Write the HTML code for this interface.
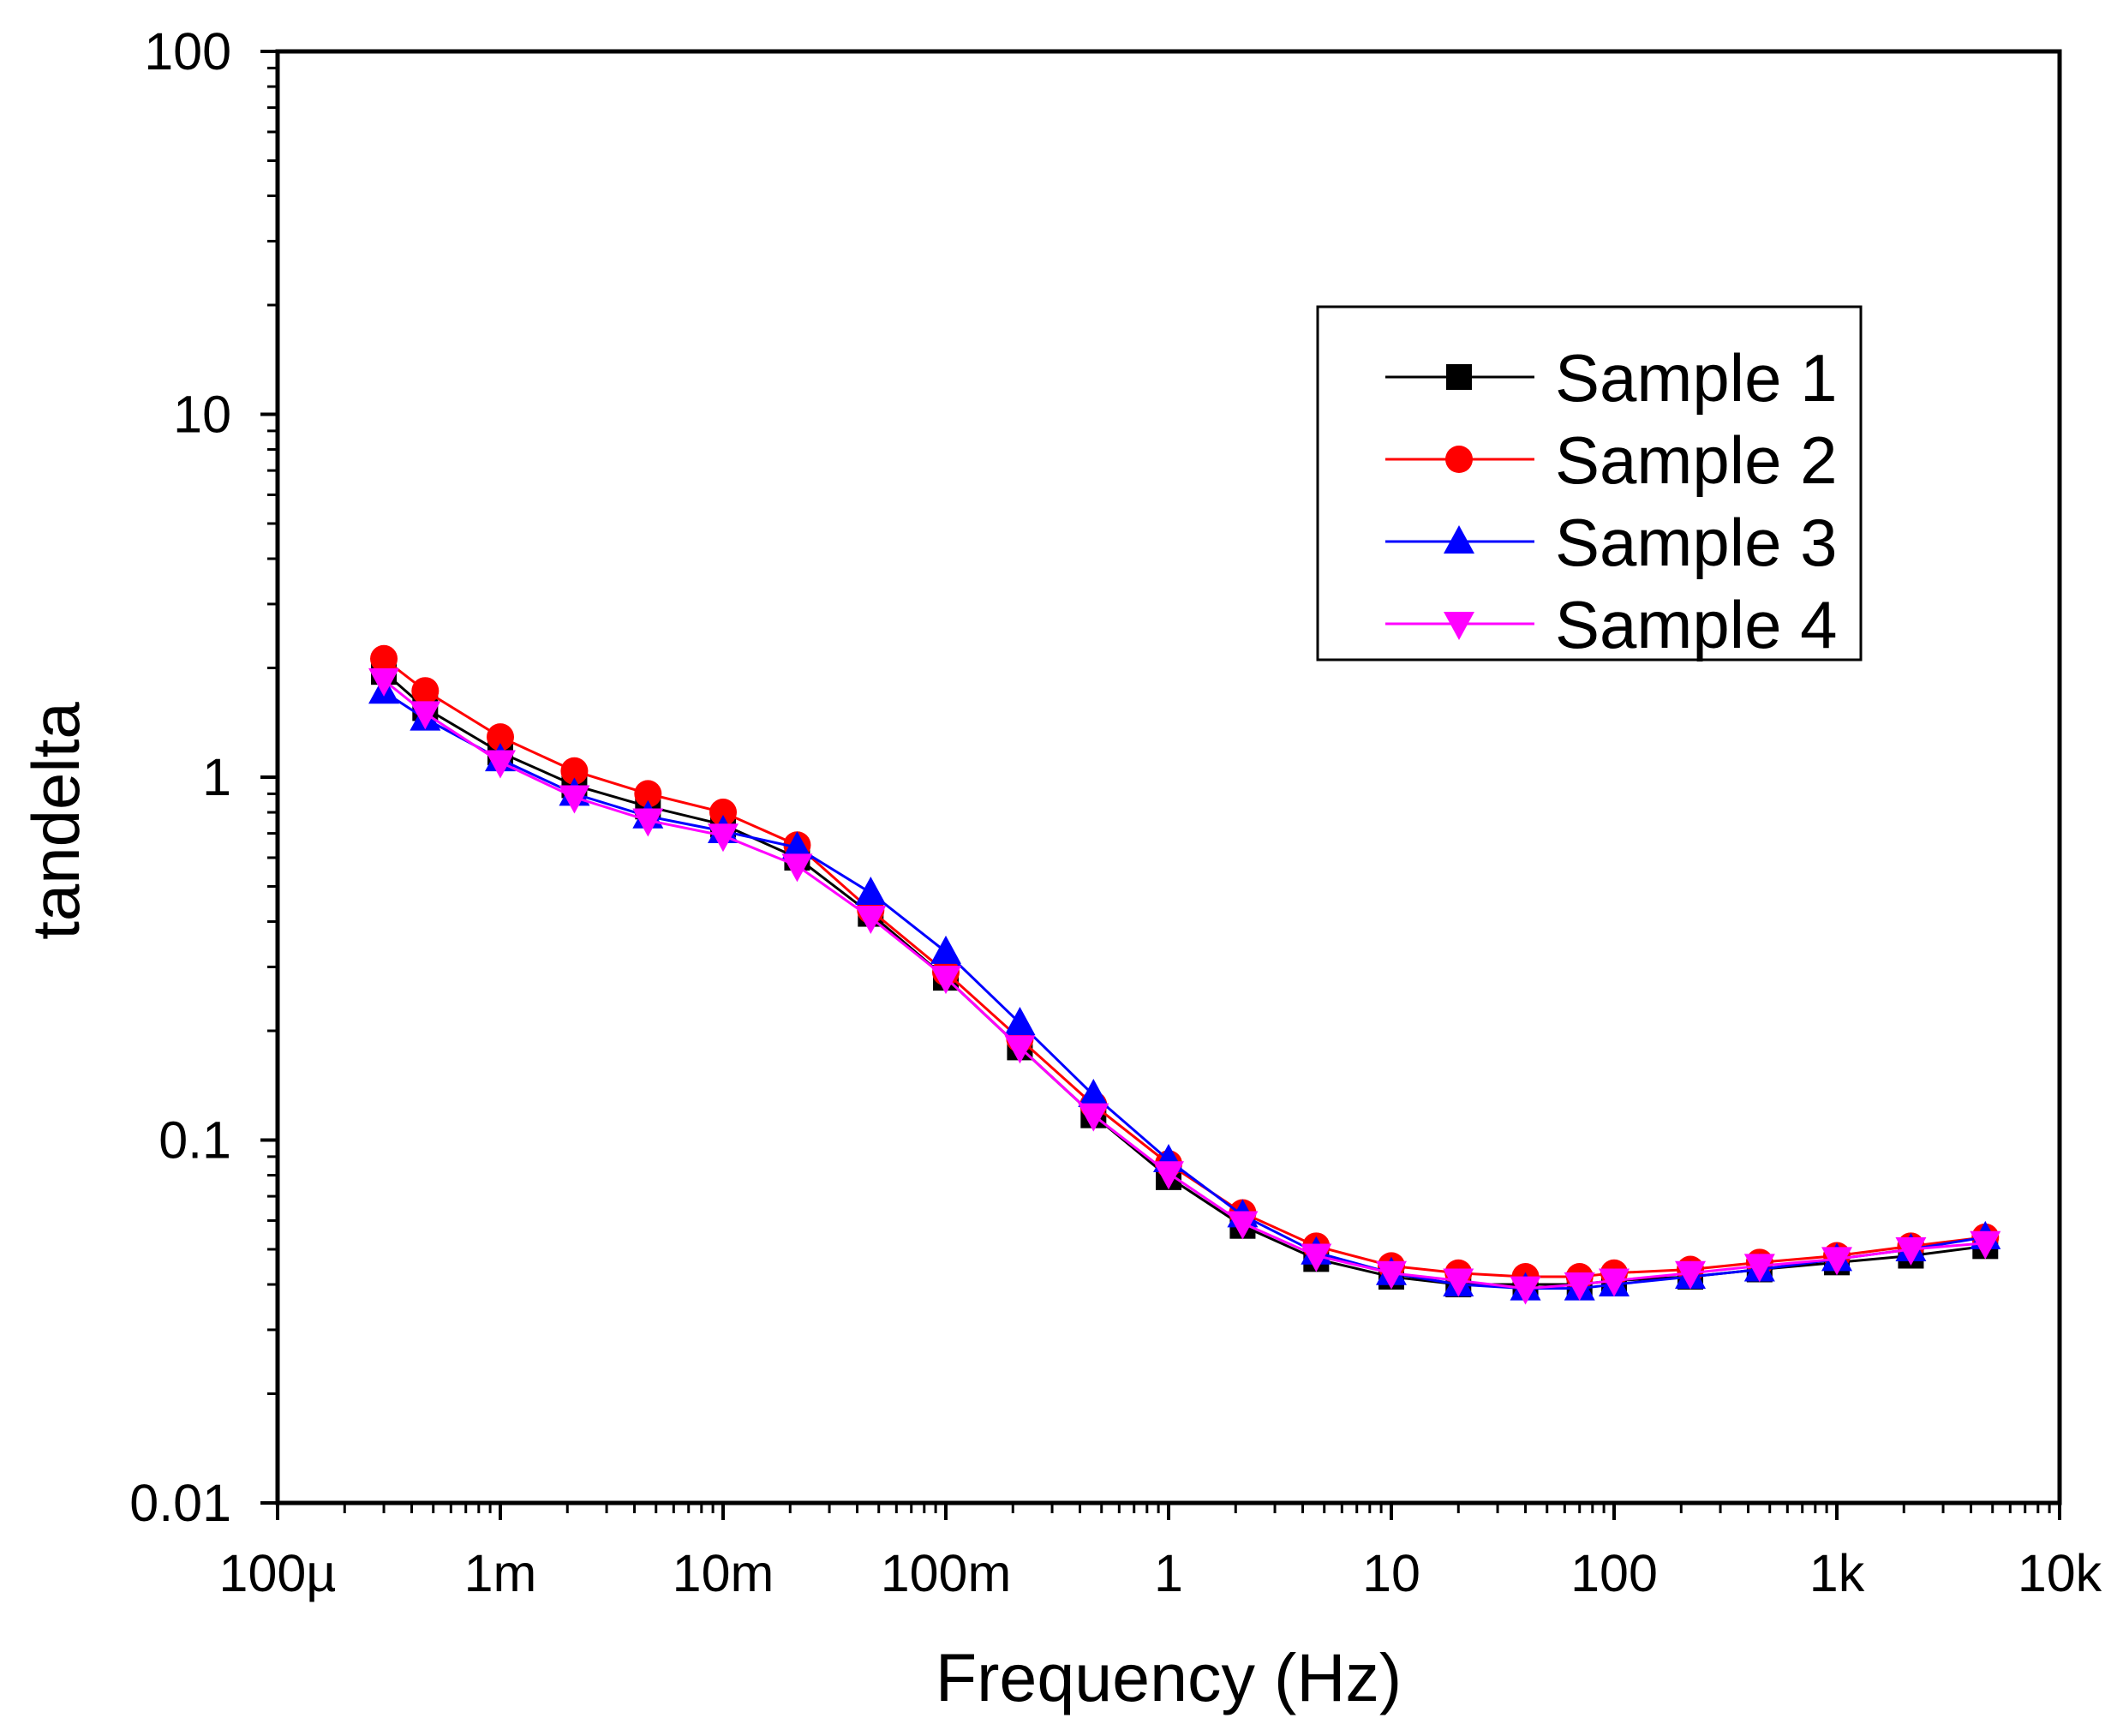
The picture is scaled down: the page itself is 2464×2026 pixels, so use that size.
<!DOCTYPE html>
<html><head><meta charset="utf-8"><style>
html,body{margin:0;padding:0;background:#fff;}
svg{display:block;font-family:"Liberation Sans",Arial,sans-serif;}
</style></head><body>
<svg id="chart" width="2464" height="2026" viewBox="0 0 2464 2026" xmlns="http://www.w3.org/2000/svg">
<rect x="0" y="0" width="2464" height="2026" fill="#fff"/>
<g id="plot"></g>
<g id="axes"></g>
<text x="1364" y="1985" font-size="79" text-anchor="middle">Frequency (Hz)</text>
<text x="0" y="0" font-size="78" text-anchor="middle" transform="translate(92,958) rotate(-90)">tandelta</text>
<g id="legend"></g>
</svg>
<script>
const freqs = [3e-4,4.6e-4,1e-3,2.15e-3,4.6e-3,1e-2,2.15e-2,4.6e-2,0.1,0.215,0.46,1,2.15,4.6,10,20,40,70,100,220,450,1000,2150,4640];
const s1 = [1.95,1.55,1.17,0.95,0.83,0.74,0.60,0.42,0.28,0.18,0.117,0.079,0.058,0.047,0.042,0.040,0.040,0.040,0.041,0.042,0.044,0.046,0.048,0.051];
const s2 = [2.12,1.73,1.29,1.04,0.90,0.80,0.65,0.43,0.29,0.19,0.125,0.086,0.063,0.051,0.045,0.043,0.042,0.042,0.043,0.044,0.046,0.048,0.051,0.054];
const s3 = [1.72,1.45,1.12,0.90,0.78,0.71,0.64,0.48,0.33,0.21,0.133,0.088,0.062,0.049,0.043,0.040,0.039,0.039,0.040,0.042,0.044,0.047,0.050,0.054];
const s4 = [1.85,1.50,1.10,0.88,0.76,0.69,0.57,0.41,0.28,0.18,0.117,0.081,0.059,0.048,0.043,0.041,0.039,0.040,0.041,0.043,0.045,0.047,0.050,0.052];
const xTickLabels = ["100µ","1m","10m","100m","1","10","100","1k","10k"];
const yTickLabels = ["0.01","0.1","1","10","100"];
const seriesNames = ["Sample 1","Sample 2","Sample 3","Sample 4"];

const NS="http://www.w3.org/2000/svg";
const L=324,R=2404,T=60,B=1754;
const xMin=-4,xMax=4,yMin=-2,yMax=2;
function xs(v){return L+(Math.log10(v)-xMin)/(xMax-xMin)*(R-L);}
function ys(v){return B-(Math.log10(v)-yMin)/(yMax-yMin)*(B-T);}
function mk(tag,attrs,parent){const e=document.createElementNS(NS,tag);for(const k in attrs)e.setAttribute(k,attrs[k]);parent.appendChild(e);return e;}

const axes=document.getElementById('axes');
const frame=mk('rect',{x:L,y:T,width:R-L,height:B-T,fill:'none',stroke:'#000','stroke-width':5},axes);


for(let d=0;d<xTickLabels.length;d++){
  const e=xMin+d;
  const x=xs(Math.pow(10,e));
  const t=mk('line',{x1:x,y1:B,x2:x,y2:B+20,stroke:'#000','stroke-width':4},axes);
  
  
  const lb=mk('text',{x:x,y:1857,'font-size':61,'text-anchor':'middle'},axes);
  lb.textContent=xTickLabels[d];
  
  
  if(e<xMax){for(let m=2;m<=9;m++){const xm=xs(m*Math.pow(10,e));
    const mt=mk('line',{x1:xm,y1:B,x2:xm,y2:B+12,stroke:'#000','stroke-width':3},axes);
    
    }}
}
for(let d=0;d<yTickLabels.length;d++){
  const e=yMin+d;
  const y=ys(Math.pow(10,e));
  const t=mk('line',{x1:L-20,y1:y,x2:L,y2:y,stroke:'#000','stroke-width':4},axes);
  
  
  const lb=mk('text',{x:270,y:y+21,'font-size':61,'text-anchor':'end'},axes);
  lb.textContent=yTickLabels[d];
  
  
  if(e<yMax){for(let m=2;m<=9;m++){const ym=ys(m*Math.pow(10,e));
    const mt=mk('line',{x1:L-12,y1:ym,x2:L,y2:ym,stroke:'#000','stroke-width':3},axes);
    
    }}
}

function marker(type,x,y,color,parent){
  let el;
  if(type==='square') el=mk('rect',{x:x-15,y:y-15,width:30,height:30,fill:color},parent);
  else if(type==='circle') el=mk('circle',{cx:x,cy:y,r:16,fill:color},parent);
  else if(type==='up') el=mk('polygon',{points:`${x},${y-19} ${x-18},${y+14} ${x+18},${y+14}`,fill:color},parent);
  else el=mk('polygon',{points:`${x},${y+19} ${x-18},${y-14} ${x+18},${y-14}`,fill:color},parent);
  return el;
}
const plot=document.getElementById('plot');
const series=[[s1,'#000','square'],[s2,'#f00','circle'],[s3,'#00f','up'],[s4,'#f0f','down']];
series.forEach((s,i)=>{
  const g=mk('g',{},plot);
  
  
  const pts=s[0].map((v,j)=>xs(freqs[j])+','+ys(v)).join(' ');
  const pl=mk('polyline',{points:pts,fill:'none',stroke:s[1],'stroke-width':3},g);
  
  
  s[0].forEach((v,j)=>{
    const m=marker(s[2],xs(freqs[j]),ys(v),s[1],g);
    
    
  });
});
const lg=document.getElementById('legend');
const box=mk('rect',{x:1538,y:358,width:634,height:412,fill:'#fff',stroke:'#000','stroke-width':3},lg);


const rows=[440,536,632,728];
series.forEach((s,i)=>{
  const g=mk('g',{},lg);
  
  
  mk('line',{x1:1617,y1:rows[i],x2:1791,y2:rows[i],stroke:s[1],'stroke-width':3},g);
  marker(s[2],1703,rows[i],s[1],g);
  const t=mk('text',{x:1815,y:rows[i]+28,'font-size':78},g);
  t.textContent=seriesNames[i];
});
</script>
</body></html>
